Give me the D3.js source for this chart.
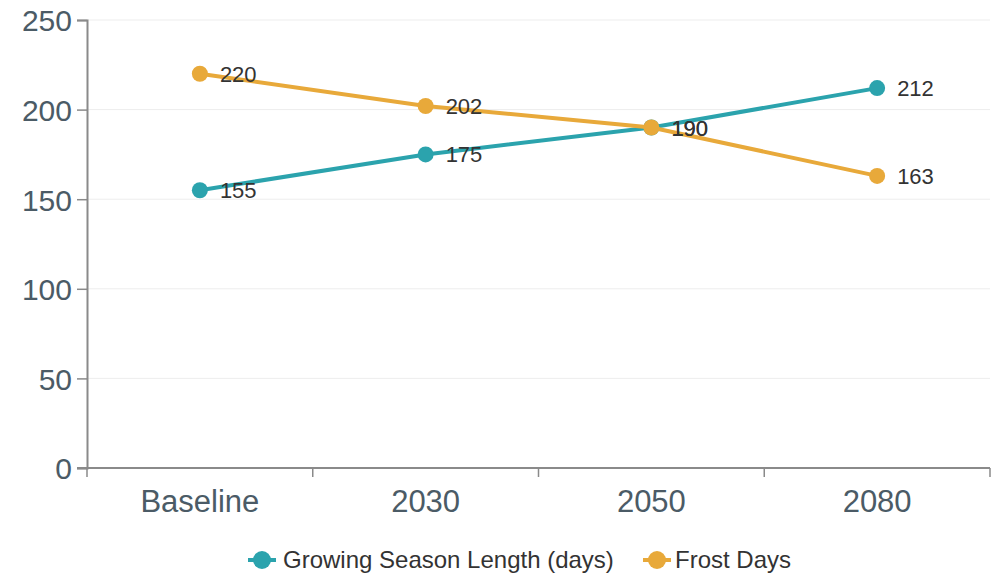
<!DOCTYPE html>
<html>
<head>
<meta charset="utf-8">
<script src="https://cdn.jsdelivr.net/npm/d3@7"></script>
<style>
  html, body { margin: 0; padding: 0; background: #fff; }
  svg { display: block; font-family: Arial, "Liberation Sans", Helvetica, sans-serif; }
</style>
</head>
<body>
<svg id="chart" width="994" height="575"></svg>
<script>
// Projection periods and the two climate indicators
const periods = ["Baseline", "2030", "2050", "2080"];
const growingSeason = [155, 175, 190, 212];
const frostDays = [220, 202, 190, 163];
const yTicks = [0, 50, 100, 150, 200, 250];
const seriesNames = ["Growing Season Length (days)", "Frost Days"];
const seriesColors = ["#2ba3ad", "#e8a93a"];

const series = [
  { name: seriesNames[0], values: growingSeason, color: seriesColors[0] },
  { name: seriesNames[1], values: frostDays, color: seriesColors[1] }
];

const svg = d3.select("#chart");
const margin = { left: 87, right: 4, top: 20, bottom: 107 };
const width = 994, height = 575;

const x = d3.scaleBand()
  .domain(periods)
  .range([margin.left, width - margin.right])
  .padding(0);

const y = d3.scaleLinear()
  .domain([0, 250])
  .range([height - margin.bottom, margin.top]);

// Horizontal grid lines
svg.append("g")
  .selectAll("line")
  .data(yTicks.filter(d => d > 0))
  .join("line")
  .attr("x1", margin.left)
  .attr("x2", width - margin.right)
  .attr("y1", d => y(d))
  .attr("y2", d => y(d))
  .attr("stroke", "#ededed")
  .attr("stroke-width", 1);

// Y axis
const yAxis = svg.append("g")
  .attr("transform", `translate(${margin.left},0)`)
  .call(d3.axisLeft(y).tickValues(yTicks).tickSize(10).tickPadding(5));
yAxis.select(".domain").attr("stroke", "#8a8a8a").attr("stroke-width", 2);
yAxis.selectAll(".tick line").attr("stroke", "#8a8a8a").attr("stroke-width", 1.5);
yAxis.selectAll(".tick text")
  .attr("fill", "#4b5b66")
  .style("font-size", "30px")
  .attr("dy", "0.36em");

// X axis: ticks sit on the band boundaries
const xAxisG = svg.append("g")
  .attr("transform", `translate(0,${y(0)})`);
xAxisG.append("line")
  .attr("x1", margin.left - 10)
  .attr("x2", width - margin.right)
  .attr("stroke", "#8a8a8a")
  .attr("stroke-width", 2);
const boundaries = periods.map(p => x(p)).concat([x(periods[periods.length - 1]) + x.bandwidth()]);
xAxisG.selectAll("line.bt")
  .data(boundaries)
  .join("line")
  .attr("class", "bt")
  .attr("x1", d => d).attr("x2", d => d)
  .attr("y1", 0).attr("y2", 9)
  .attr("stroke", "#8a8a8a")
  .attr("stroke-width", 1.5);
xAxisG.selectAll("text")
  .data(periods)
  .join("text")
  .attr("x", d => x(d) + x.bandwidth() / 2)
  .attr("y", 44)
  .attr("text-anchor", "middle")
  .attr("fill", "#4b5b66")
  .style("font-size", "31px")
  .text(d => d);

// Lines, markers and value labels
const line = d3.line()
  .x((d, i) => x(periods[i]) + x.bandwidth() / 2)
  .y(d => y(d));

series.forEach(s => {
  const g = svg.append("g");
  g.append("path")
    .datum(s.values)
    .attr("d", line)
    .attr("fill", "none")
    .attr("stroke", s.color)
    .attr("stroke-width", 4);
  g.selectAll("circle")
    .data(s.values)
    .join("circle")
    .attr("cx", (d, i) => x(periods[i]) + x.bandwidth() / 2)
    .attr("cy", d => y(d))
    .attr("r", 8)
    .attr("fill", s.color);
});

series.forEach(s => {
  svg.append("g")
    .selectAll("text")
    .data(s.values)
    .join("text")
    .attr("x", (d, i) => x(periods[i]) + x.bandwidth() / 2 + 20)
    .attr("y", d => y(d) + 8)
    .attr("fill", "#333")
    .style("font-size", "22px")
    .text(d => d);
});

// Legend
const legendItems = [
  { name: seriesNames[0], color: seriesColors[0], x: 248, tx: 35 },
  { name: seriesNames[1], color: seriesColors[1], x: 643, tx: 32 }
];
const legend = svg.append("g").attr("transform", "translate(0,560)");
legendItems.forEach(item => {
  const g = legend.append("g").attr("transform", `translate(${item.x},0)`);
  g.append("line")
    .attr("x1", 0).attr("x2", 28)
    .attr("stroke", item.color)
    .attr("stroke-width", 4);
  g.append("circle")
    .attr("cx", 14).attr("cy", 0).attr("r", 9)
    .attr("fill", item.color);
  g.append("text")
    .attr("x", item.tx)
    .attr("y", 8)
    .attr("fill", "#333")
    .style("font-size", "24px")
    .text(item.name);
});
</script>
</body>
</html>
